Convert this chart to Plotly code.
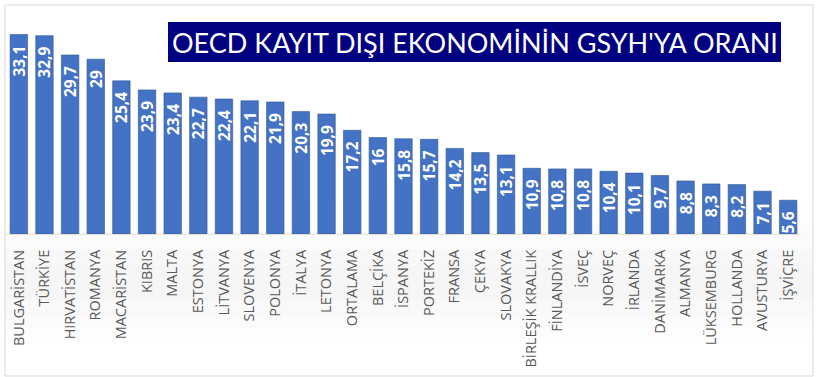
import plotly.graph_objects as go

categories = ["BULGARİSTAN", "TÜRKİYE", "HIRVATİSTAN", "ROMANYA", "MACARİSTAN", "KIBRIS",
              "MALTA", "ESTONYA", "LİTVANYA", "SLOVENYA", "POLONYA", "İTALYA", "LETONYA",
              "ORTALAMA", "BELÇİKA", "İSPANYA", "PORTEKİZ", "FRANSA", "ÇEKYA", "SLOVAKYA",
              "BİRLEŞİK KRALLIK", "FİNLANDİYA", "İSVEÇ", "NORVEÇ", "İRLANDA", "DANİMARKA",
              "ALMANYA", "LÜKSEMBURG", "HOLLANDA", "AVUSTURYA", "İŞVİÇRE"]
values = [33.1, 32.9, 29.7, 29, 25.4, 23.9, 23.4, 22.7, 22.4, 22.1, 21.9, 20.3, 19.9,
          17.2, 16, 15.8, 15.7, 14.2, 13.5, 13.1, 10.9, 10.8, 10.8, 10.4, 10.1, 9.7,
          8.8, 8.3, 8.2, 7.1, 5.6]
title_text = "OECD KAYIT DIŞI EKONOMİNİN GSYH'YA ORANI"

labels = ["<b>" + (f"{v:g}").replace(".", ",") + "</b>\u00a0\u00a0" for v in values]

W, H = 817, 377
ML, MR, MT, MB = 6, 16, 23, 143
pw, ph = W - ML - MR, H - MT - MB

def px(x):
    return (x - ML) / pw

def py(y):
    return (H - MB - y) / ph

fig = go.Figure(go.Bar(
    x=categories, y=values,
    marker=dict(color="#4472C4", line=dict(color="#2F5597", width=0.6)),
    text=labels, textposition="inside", insidetextanchor="end",
    textangle=-90, constraintext="none",
    textfont=dict(family="Open Sans", size=15.5, color="white"),
    hoverinfo="skip",
))

shapes = []
# soft gray background band
bands = [(200, 230, 0.025), (230, 250, 0.045), (250, 265, 0.065), (265, 300, 0.085),
         (300, 315, 0.06), (315, 328, 0.04), (328, 342, 0.02)]
for y0, y1, op in bands:
    shapes.append(dict(type="rect", xref="paper", yref="paper",
                       x0=px(5), x1=px(813), y0=py(y1), y1=py(y0),
                       fillcolor="#9a9a9a", opacity=op, line=dict(width=0), layer="below"))
# frame
shapes.append(dict(type="rect", xref="paper", yref="paper",
                   x0=px(5), x1=px(813), y0=py(376), y1=py(5),
                   line=dict(color="#d9d9d9", width=1), layer="below"))
# title box
shapes.append(dict(type="rect", xref="paper", yref="paper",
                   x0=px(168), x1=px(781), y0=py(62), y1=py(22),
                   fillcolor="#000080", line=dict(width=0), layer="above"))

fig.update_layout(
    width=W, height=H,
    margin=dict(l=ML, r=MR, t=MT, b=MB, autoexpand=False),
    paper_bgcolor="white", plot_bgcolor="rgba(0,0,0,0)",
    bargap=0.32, showlegend=False,
    shapes=shapes,
    annotations=[dict(text=title_text, xref="paper", yref="paper",
                      x=px(474.5), y=py(42), xanchor="center", yanchor="middle",
                      showarrow=False,
                      font=dict(family="Lato", size=27, color="white"))],
    xaxis=dict(tickangle=-90, tickfont=dict(family="Open Sans", size=14.5, color="#595959"),
               showgrid=False, showline=True, linecolor="#e6e2d3", linewidth=1,
               ticks="", ticklabelstandoff=9, automargin=False, fixedrange=True),
    yaxis=dict(range=[0, 35], visible=False, showgrid=False, automargin=False,
               fixedrange=True),
)

fig.write_html("out.html", config={"displayModeBar": False},
               post_script="document.body.style.margin='0';document.body.style.overflow='hidden';")
